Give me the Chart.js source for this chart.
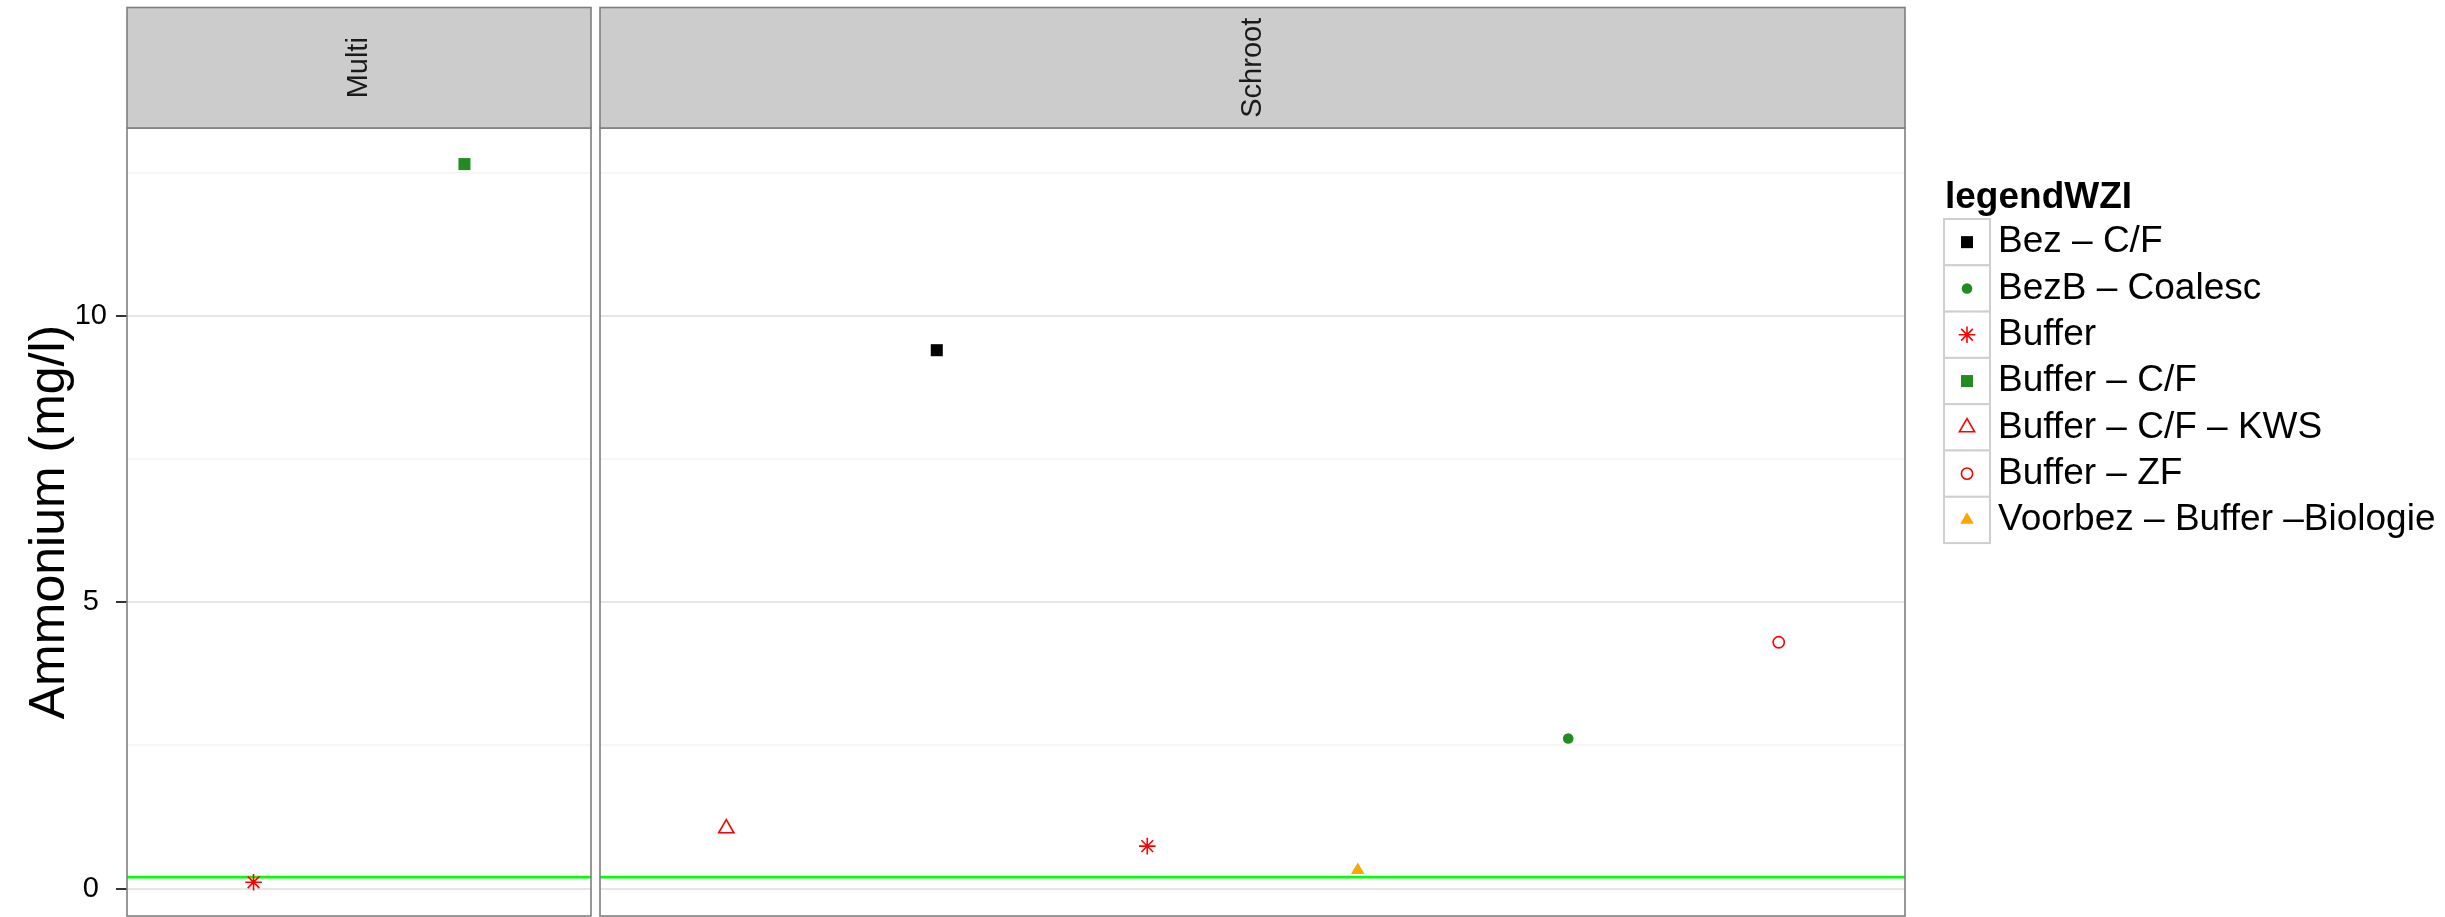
<!DOCTYPE html>
<html>
<head>
<meta charset="utf-8">
<script src="https://cdn.jsdelivr.net/npm/chart.js@4/dist/chart.umd.min.js"></script>
<style>
html,body{margin:0;padding:0;background:#fff;overflow:hidden;width:2445px;height:917px}
canvas{position:absolute;left:0;top:0}
</style>
</head>
<body>
<canvas id="c1" width="2445" height="920"></canvas>
<canvas id="c2" width="2445" height="920"></canvas>
<script>
// ---------- data ----------
const panels = ['Multi', 'Schroot'];
const legendTitle = 'legendWZI';
const yTitle = 'Ammonium (mg/l)';
const groups = ['Bez – C/F', 'BezB – Coalesc', 'Buffer', 'Buffer – C/F', 'Buffer – C/F – KWS', 'Buffer – ZF', 'Voorbez – Buffer –Biologie'];
const multiGroups = ['Buffer', 'Buffer – C/F'];
const multiValues = [0.11, 12.65];
const schrootGroups = ['Buffer – C/F – KWS', 'Bez – C/F', 'Buffer', 'Voorbez – Buffer –Biologie', 'BezB – Coalesc', 'Buffer – ZF'];
const schrootValues = [1.05, 9.40, 0.74, 0.32, 2.62, 4.30];
const thresholdValue = 0.2;
const yMajorTicks = [0, 5, 10];
const yMinorTicks = [2.5, 7.5, 12.5];

// ---------- styles ----------
const markerStyles = {
  'Bez – C/F': {pointStyle: 'rect', color: '#000000', fill: true, radius: 8.5},
  'BezB – Coalesc': {pointStyle: 'circle', color: '#228B22', fill: true, radius: 5.3},
  'Buffer': {pointStyle: 'star', color: '#FF0000', fill: false, radius: 8.3},
  'Buffer – C/F': {pointStyle: 'rect', color: '#228B22', fill: true, radius: 8.5},
  'Buffer – C/F – KWS': {pointStyle: 'triangle', color: '#FF0000', fill: false, radius: 8.8},
  'Buffer – ZF': {pointStyle: 'circle', color: '#FF0000', fill: false, radius: 5.6},
  'Voorbez – Buffer –Biologie': {pointStyle: 'triangle', color: '#FFA500', fill: true, radius: 7.8}
};
const W = 2445;
const yMin = -0.48, yMax = 13.28;
const FONT = 'Liberation Sans';
Chart.defaults.font.family = FONT;

function makeDatasets(gs, vs) {
  return gs.map((g, i) => {
    const s = markerStyles[g];
    return {
      label: g,
      data: [{x: i + 1, y: vs[i]}],
      pointStyle: s.pointStyle,
      pointRadius: s.radius,
      pointHoverRadius: s.radius,
      pointBackgroundColor: s.fill ? s.color : 'rgba(0,0,0,0)',
      pointBorderColor: s.color,
      pointBorderWidth: s.fill ? 0 : 1.6,
      showLine: false
    };
  });
}

function drawKeySymbol(ctx, s, x, y) {
  ctx.save();
  ctx.fillStyle = s.fill ? s.color : 'rgba(0,0,0,0)';
  ctx.strokeStyle = s.color;
  ctx.lineWidth = s.fill ? 0 : 1.6;
  Chart.helpers.drawPoint(ctx, {pointStyle: s.pointStyle, radius: s.radius, borderWidth: s.fill ? 0 : 1.6, rotation: 0}, x, y);
  ctx.restore();
}

function drawLegend(chart) {
  const ctx = chart.ctx;
  const kx = 1944, ky0 = 219, kh = 46.3, kw = 46;
  ctx.save();
  ctx.fillStyle = '#000';
  ctx.font = 'bold 37px "' + FONT + '"';
  ctx.textAlign = 'left';
  ctx.textBaseline = 'alphabetic';
  ctx.fillText(legendTitle, 1945, 208);
  groups.forEach((g, i) => {
    const ky = ky0 + i * kh;
    ctx.fillStyle = '#FFFFFF';
    ctx.fillRect(kx, ky, kw, kh);
    ctx.strokeStyle = '#CFCFCF';
    ctx.lineWidth = 2;
    ctx.strokeRect(kx, ky, kw, kh);
    drawKeySymbol(ctx, markerStyles[g], kx + kw / 2, ky + kh / 2);
    ctx.fillStyle = '#000';
    ctx.font = '37px "' + FONT + '"';
    ctx.textBaseline = 'middle';
    ctx.fillText(g, 1998, ky + kh / 2);
  });
  ctx.restore();
}

const facetPlugin = {
  id: 'facet',
  beforeDatasetsDraw(chart) {
    const {ctx, chartArea: a, scales: {y}} = chart;
    const py = y.getPixelForValue(thresholdValue);
    ctx.save();
    ctx.strokeStyle = '#00FF00';
    ctx.lineWidth = 2.7;
    ctx.beginPath();
    ctx.moveTo(a.left, py);
    ctx.lineTo(a.right, py);
    ctx.stroke();
    ctx.restore();
  },
  afterDraw(chart, args, opts) {
    const {ctx, chartArea: a} = chart;
    const sTop = 7.5;
    ctx.save();
    ctx.strokeStyle = '#7F7F7F';
    ctx.lineWidth = 1.6;
    ctx.strokeRect(a.left, a.top, a.right - a.left, a.bottom - a.top);
    ctx.fillStyle = '#CCCCCC';
    ctx.fillRect(a.left, sTop, a.right - a.left, a.top - sTop);
    ctx.strokeRect(a.left, sTop, a.right - a.left, a.top - sTop);
    ctx.translate((a.left + a.right) / 2, (sTop + a.top) / 2);
    ctx.rotate(-Math.PI / 2);
    ctx.fillStyle = '#1A1A1A';
    ctx.font = '29px "' + FONT + '"';
    ctx.textAlign = 'center';
    ctx.textBaseline = 'middle';
    ctx.fillText(opts.panel, 0, 0);
    ctx.restore();
    if (opts.legend) drawLegend(chart);
  }
};

function facetChart(canvasId, panelName, gs, vs, first, padding) {
  const allTicks = yMajorTicks.concat(yMinorTicks).sort((p, q) => p - q);
  const isMajor = v => yMajorTicks.includes(v);
  return new Chart(document.getElementById(canvasId), {
    type: 'scatter',
    data: {datasets: makeDatasets(gs, vs)},
    options: {
      responsive: false,
      animation: false,
      devicePixelRatio: 1,
      layout: {padding: padding, autoPadding: false},
      plugins: {
        legend: {display: false},
        tooltip: {enabled: false},
        facet: {panel: panelName, legend: !first}
      },
      scales: {
        x: {type: 'linear', display: false, min: 0.4, max: gs.length + 0.6},
        y: {
          type: 'linear', min: yMin, max: yMax, display: true,
          afterBuildTicks: sc => { sc.ticks = allTicks.map(v => ({value: v})); },
          afterFit: sc => {
            sc.width = first ? 127 : 0;
            sc.paddingTop = 0; sc.paddingBottom = 0; sc.paddingLeft = 0; sc.paddingRight = 0;
          },
          border: {display: false},
          grid: {
            color: c => (c.tick && isMajor(c.tick.value)) ? '#E6E6E6' : '#F6F6F6',
            lineWidth: 2,
            drawTicks: first,
            tickLength: 11,
            tickWidth: 2,
            tickColor: c => (c.tick && isMajor(c.tick.value)) ? '#333333' : 'rgba(0,0,0,0)'
          },
          ticks: {
            display: first, padding: 9, color: '#000', autoSkip: false, crossAlign: 'center',
            font: {family: FONT, size: 29},
            callback: v => isMajor(v) ? String(v) : ''
          },
          title: {
            display: first, text: yTitle, color: '#000',
            font: {family: FONT, size: 50, lineHeight: 1},
            padding: {top: 25, bottom: 0}
          }
        }
      }
    },
    plugins: [facetPlugin]
  });
}

facetChart('c1', panels[0], multiGroups, multiValues, true, {left: 0, right: W - 591, top: 128, bottom: 4});
facetChart('c2', panels[1], schrootGroups, schrootValues, false, {left: 600, right: W - 1905, top: 128, bottom: 4});
</script>
</body>
</html>
